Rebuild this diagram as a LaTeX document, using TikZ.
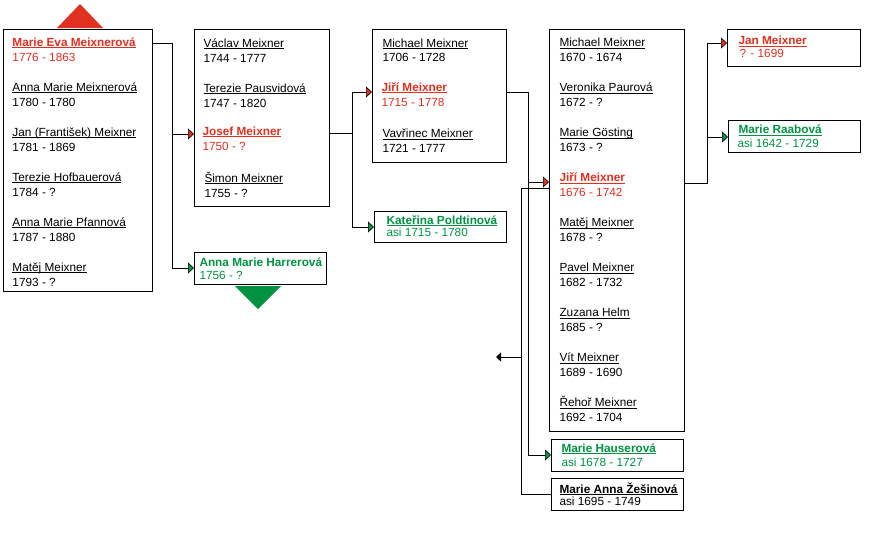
\documentclass[tikz,border=0pt]{standalone}
\usepackage{fontspec}
\setmainfont{Liberation Sans}
\usetikzlibrary{arrows.meta}

\definecolor{famred}{RGB}{224,48,32}
\definecolor{famgreen}{RGB}{0,146,64}
\newcommand{\uname}[1]{\setbox0\hbox{#1}\rlap{\rule[-2.3pt]{\wd0}{0.9pt}}\box0}

\begin{document}
\begin{tikzpicture}[x=1pt, y=-1pt, line width=1pt,
    box/.style={draw, anchor=north west, inner sep=0pt, outer sep=0pt},
    entry/.style={anchor=base west, inner sep=0pt, font=\fontsize{11.8}{13}\selectfont},
    fa/.style={-{Triangle[width=11pt, length=6pt, line width=0.6pt, fill=famred]}},
    ma/.style={-{Triangle[width=11pt, length=6pt, line width=0.6pt, fill=famgreen]}},
    more/.style={-{Triangle[width=9pt, length=5pt]}}]

    % Rows
    \def\dy{45}      % distance between two persons
    \def\yd{14.5}    % name to dates

    \useasboundingbox (0,0) rectangle (869,541);

    % Boxes
    \node[box, minimum width=149pt, minimum height=262pt] (b1)  at (3,29)    {};
    \node[box, minimum width=135pt, minimum height=177pt] (b2)  at (194,29)  {};
    \node[box, minimum width=132pt, minimum height=32pt]  (b3)  at (194,252) {};
    \node[box, minimum width=134pt, minimum height=133pt] (b4)  at (372,29)  {};
    \node[box, minimum width=132pt, minimum height=31pt]  (b5)  at (374,211) {};
    \node[box, minimum width=135pt, minimum height=402pt] (b6)  at (549,29)  {};
    \node[box, minimum width=132pt, minimum height=32pt]  (b7)  at (551,439) {};
    \node[box, minimum width=132pt, minimum height=32pt]  (b8)  at (551,478) {};
    \node[box, minimum width=133pt, minimum height=37pt]  (b9)  at (727,29)  {};
    \node[box, minimum width=132pt, minimum height=32pt]  (b10) at (728,120) {};

    % Up / down
    \fill[famred]   (57,28) -- (80,4) -- (103,28) -- cycle;
    \fill[famgreen] (235,286) -- (258,309) -- (281,286) -- cycle;

    % Children of Josef
    \node[entry, text=famred] (e1-1) at (12,46) {\bfseries\uname{Marie Eva Meixnerová}};
    \node[entry, text=famred] (d1-1) at (12,61) {1776 - 1863};
    \foreach \nm/\yr [count=\i from 2] in {Anna Marie Meixnerová/1780 - 1780, Jan (František) Meixner/1781 - 1869,
        Terezie Hofbauerová/1784 - ?, Anna Marie Pfannová/1787 - 1880, Matěj Meixner/1793 - ?}{
        \node[entry] (e1-\i) at (12,{46+\dy*(\i-1)}) {\uname{\nm}};
        \node[entry] (d1-\i) at (12,{61+\dy*(\i-1)}) {\yr};
    }

    % Children of Jiří (1715)
    \node[entry] (e2-1) at (203,47)  {\uname{Václav Meixner}};
    \node[entry] (d2-1) at (203,62)  {1744 - 1777};
    \node[entry] (e2-2) at (203,92)  {\uname{Terezie Pausvidová}};
    \node[entry] (d2-2) at (203,107) {1747 - 1820};
    \node[entry, text=famred] (e2-3) at (202,135) {\bfseries\uname{Josef Meixner}};
    \node[entry, text=famred] (d2-3) at (202,150) {1750 - ?};
    \node[entry] (e2-4) at (204,182) {\uname{Šimon Meixner}};
    \node[entry] (d2-4) at (204,197) {1755 - ?};

    \node[entry, text=famgreen] (e3) at (199,266) {\bfseries Anna Marie Harrerová};
    \node[entry, text=famgreen] (d3) at (199,279) {1756 - ?};

    % Children of Jiří (1676)
    \node[entry] (e4-1) at (382,47)  {\uname{Michael Meixner}};
    \node[entry] (d4-1) at (382,61.5) {1706 - 1728};
    \node[entry, text=famred] (e4-2) at (381,91)  {\bfseries\uname{Jiří Meixner}};
    \node[entry, text=famred] (d4-2) at (381,106) {1715 - 1778};
    \node[entry] (e4-3) at (382,137.5) {\uname{Vavřinec Meixner}};
    \node[entry] (d4-3) at (382,152) {1721 - 1777};

    \node[entry, text=famgreen] (e5) at (386,224)   {\bfseries\uname{Kateřina Poldtinová}};
    \node[entry, text=famgreen] (d5) at (386,236.5) {asi 1715 - 1780};

    % Children of Jan
    \foreach \nm/\yr/\k in {Michael Meixner/1670 - 1674/0, Veronika Paurová/1672 - ?/1, Marie Gösting/1673 - ?/2,
        Matěj Meixner/1678 - ?/4, Pavel Meixner/1682 - 1732/5, Zuzana Helm/1685 - ?/6,
        Vít Meixner/1689 - 1690/7, Řehoř Meixner/1692 - 1704/8}{
        \node[entry] (e6-\k) at (559,{46.5+\dy*\k})     {\uname{\nm}};
        \node[entry] (d6-\k) at (559,{46.5+\yd+\dy*\k}) {\yr};
    }
    \node[entry, text=famred] (e6-3) at (559,181.5) {\bfseries\uname{Jiří Meixner}};
    \node[entry, text=famred] (d6-3) at (559,196)   {1676 - 1742};

    \node[entry, text=famgreen] (e7) at (561,452)   {\bfseries\uname{Marie Hauserová}};
    \node[entry, text=famgreen] (d7) at (561,466.5) {asi 1678 - 1727};
    \node[entry] (e8) at (559,493)   {\bfseries\uname{Marie Anna Žešinová}};
    \node[entry] (d8) at (559,505.5) {asi 1695 - 1749};

    \node[entry, text=famred]   (e9)  at (738,44.5)  {\bfseries\uname{Jan Meixner}};
    \node[entry, text=famred]   (d9)  at (739,57)    {? - 1699};
    \node[entry, text=famgreen] (e10) at (738,133.5) {\bfseries\uname{Marie Raabová}};
    \node[entry, text=famgreen] (d10) at (737,147)   {asi 1642 - 1729};

    % Junctions
    \coordinate (j1a) at (172,43);  \coordinate (j1b) at (172,134); \coordinate (j1c) at (172,268);
    \coordinate (j2a) at (352,133); \coordinate (j2b) at (352,92);  \coordinate (j2c) at (352,227);
    \coordinate (j3a) at (528,92);  \coordinate (j3b) at (528,182); \coordinate (j3c) at (528,455);
    \coordinate (j4a) at (521,188); \coordinate (j4b) at (521,357); \coordinate (j4c) at (521,494);
    \coordinate (j5a) at (707,183); \coordinate (j5b) at (707,43);  \coordinate (j5c) at (707,137);
    \coordinate (left) at (496,357);

    % Connectors, parents
    \draw[ma] (b1.east |- j1a) -- (j1a) -- (j1c) -- (b3.west |- j1c);
    \draw[fa] (j1b) -- (b2.west |- j1b);
    \draw     (b2.east |- j2a) -- (j2a);
    \draw[fa] (j2b) -- (b4.west |- j2b);
    \draw[ma] (j2b) -- (j2c) -- (b5.west |- j2c);
    \draw[ma] (b4.east |- j3a) -- (j3a) -- (j3c) -- (b7.west |- j3c);
    \draw[fa] (j3b) -- (b6.west |- j3b);
    \draw[fa] (b6.east |- j5a) -- (j5a) -- (j5b) -- (b9.west |- j5b);
    \draw[ma] (j5c) -- (b10.west |- j5c);

    % Second wife
    \draw (b6.west |- j4a) -- (j4a) -- (j4c) -- (b8.west |- j4c);
    \draw[more] (j4b) -- (left);

\end{tikzpicture}
\end{document}
